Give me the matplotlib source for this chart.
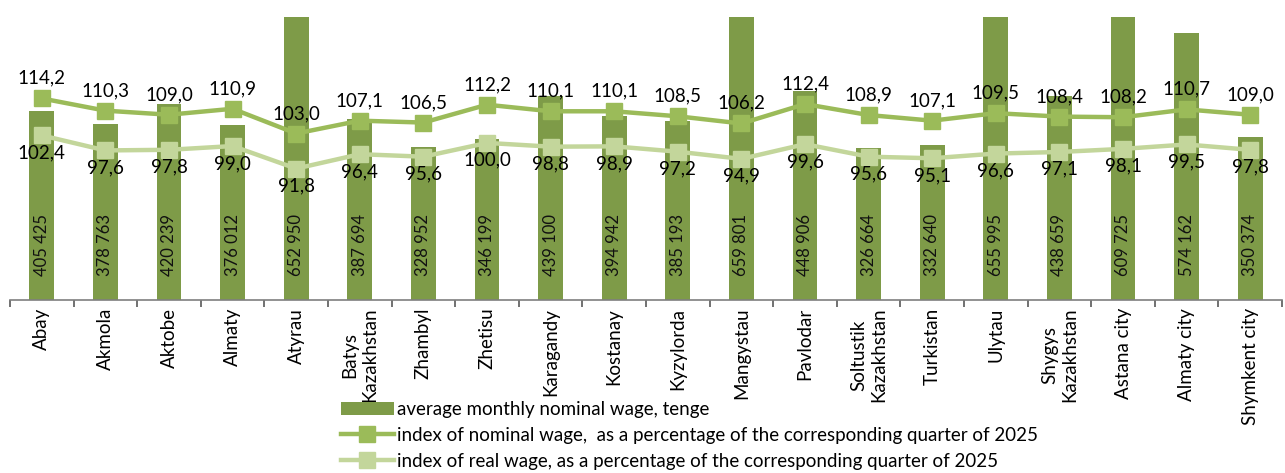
import numpy as np
import matplotlib
matplotlib.use("Agg")
import matplotlib.pyplot as plt

plt.rcParams['font.family'] = ['Lato', 'DejaVu Sans']

regions = ["Abay", "Akmola", "Aktobe", "Almaty", "Atyrau", "Batys\nKazakhstan",
           "Zhambyl", "Zhetisu", "Karagandy", "Kostanay", "Kyzylorda", "Mangystau",
           "Pavlodar", "Soltustik\nKazakhstan", "Turkistan", "Ulytau",
           "Shygys\nKazakhstan", "Astana city", "Almaty city", "Shymkent city"]
wage = [405425, 378763, 420239, 376012, 652950, 387694, 328952, 346199, 439100, 394942,
        385193, 659801, 448906, 326664, 332640, 655995, 438659, 609725, 574162, 350374]
nominal_idx = [114.2, 110.3, 109.0, 110.9, 103.0, 107.1, 106.5, 112.2, 110.1, 110.1,
               108.5, 106.2, 112.4, 108.9, 107.1, 109.5, 108.4, 108.2, 110.7, 109.0]
real_idx = [102.4, 97.6, 97.8, 99.0, 91.8, 96.4, 95.6, 100.0, 98.8, 98.9,
            97.2, 94.9, 99.6, 95.6, 95.1, 96.6, 97.1, 98.1, 99.5, 97.8]

labels = ["average monthly nominal wage, tenge",
          "index of nominal wage,  as a percentage of the corresponding quarter of 2025",
          "index of real wage, as a percentage of the corresponding quarter of 2025"]

BAR = "#7e9b48"
NOM = "#9bbb59"
REAL = "#c3d69b"

W, H = 1285, 473
fig = plt.figure(figsize=(W / 100, H / 100), dpi=100)
ax = fig.add_axes([10 / W, 1 - 299.5 / H, 1272 / W, 282.8 / H])

x = np.arange(len(regions))
bars = ax.bar(x, wage, width=0.39, color=BAR, zorder=2)
ax.set_xlim(-0.5, len(regions) - 0.5)
ax.set_ylim(0, 609000)
ax.set_yticks([])
for s in ["left", "right", "top"]:
    ax.spines[s].set_visible(False)
ax.spines["bottom"].set_color("#7f7f7f")
ax.spines["bottom"].set_linewidth(1.2)

ax.set_xticks(x)
ax.set_xticklabels(regions, rotation=90, fontsize=13.5, va="top", ha="center")
for lbl in ax.get_xticklabels():
    lbl.set_multialignment("center")
ax.tick_params(axis="x", which="major", length=0, pad=6)
ax.set_xticks(np.arange(-0.5, len(regions), 1), minor=True)
ax.tick_params(axis="x", which="minor", length=5, width=1.2, color="#595959", direction="out")

for i, w in enumerate(wage):
    ax.annotate(f"{w:,}".replace(",", " "), (i, 0), xytext=(0, 17),
                textcoords="offset points", rotation=90, ha="center", va="bottom",
                fontsize=12, color="#111111", zorder=3)

ax2 = ax.twinx()
ax2.set_ylim(50, 140.3)
ax2.set_yticks([])
for s in ax2.spines.values():
    s.set_visible(False)

l1, = ax2.plot(x, nominal_idx, color=NOM, lw=3.2, marker="s", ms=11.5,
               mfc=NOM, mec=NOM, zorder=3)
l2, = ax2.plot(x, real_idx, color=REAL, lw=3.2, marker="s", ms=11.5,
               mfc=REAL, mec=REAL, zorder=3)

for i, v in enumerate(nominal_idx):
    ax2.annotate(f"{v:.1f}".replace(".", ","), (i, v), xytext=(0, 14.5),
                 textcoords="offset points", ha="center", va="center", fontsize=13.5)
for i, v in enumerate(real_idx):
    ax2.annotate(f"{v:.1f}".replace(".", ","), (i, v), xytext=(0, -12.5),
                 textcoords="offset points", ha="center", va="center", fontsize=13.5)

fig.legend([bars, l1, l2], labels, loc="upper left",
           bbox_to_anchor=(341 / W, 1 - 401 / H), frameon=False, fontsize=13.5,
           handlelength=2.8, handletextpad=0.2, labelspacing=0.47,
           borderpad=0, borderaxespad=0)

fig.savefig("out.png", dpi=100)
